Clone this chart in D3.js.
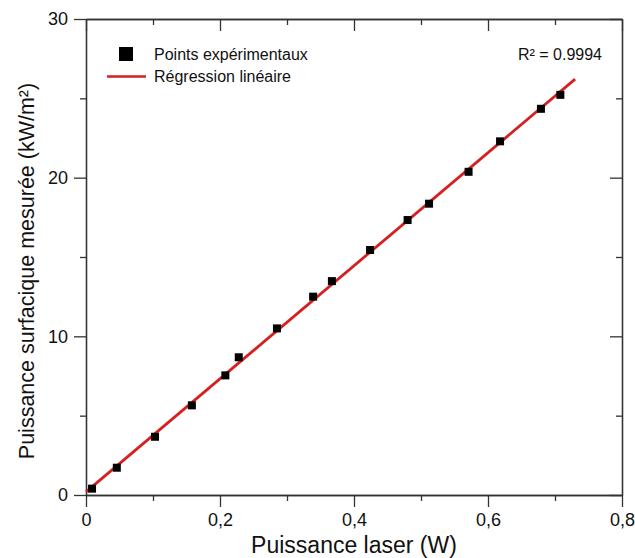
<!DOCTYPE html>
<html>
<head>
<meta charset="utf-8">
<script src="https://cdnjs.cloudflare.com/ajax/libs/d3/7.8.5/d3.min.js"></script>
<style>
  body { margin: 0; background: #fff; }
  svg { font-family: "Liberation Sans", Arial, sans-serif; }
  .axis path, .axis line { stroke: #333; stroke-width: 1.3; }
  .axis text { font-size: 18px; fill: #111; }
</style>
</head>
<body>
<div class="chart"></div>
<script>
"use strict";

// measured points
var laserW = [0.009, 0.046, 0.103, 0.158, 0.208, 0.228, 0.285, 0.339, 0.367, 0.424, 0.480, 0.512, 0.571, 0.618, 0.679, 0.708];
var fluxKW = [0.40, 1.72, 3.67, 5.65, 7.54, 8.68, 10.50, 12.50, 13.48, 15.44, 17.33, 18.36, 20.37, 22.29, 24.34, 25.22];

// axes
var xMajor = [0, 0.2, 0.4, 0.6, 0.8];
var xMinor = [0.1, 0.3, 0.5, 0.7];
var yMajor = [0, 10, 20, 30];
var yMinor = [5, 15, 25];
var fitRange = [0, 0.73];

var legendLabels = ["Points expérimentaux", "Régression linéaire"];
var r2Label = "R² = 0.9994";

var margin = {top: 19, right: 13, bottom: 63, left: 86},
    width = 635 - margin.left - margin.right,
    height = 558 - margin.top - margin.bottom;

var svg = d3.select(".chart").append("svg")
    .attr("width", 635)
    .attr("height", 558);

var g = svg.append("g")
    .attr("transform", "translate(" + margin.left + "," + margin.top + ")");

var x = d3.scaleLinear().domain([0, 0.8]).range([0, width]);
var y = d3.scaleLinear().domain([0, 30]).range([height, 0]);

var fmtX = function(d){ return d === 0 ? "0" : d3.format(".1f")(d).replace(".", ","); };

// bottom + left (outward), top + right (inward)
g.append("g").attr("class", "axis")
  .attr("transform", "translate(0," + height + ")")
  .call(d3.axisBottom(x).tickValues(xMajor).tickFormat(fmtX).tickSize(12).tickSizeOuter(0).tickPadding(6));
g.append("g").attr("class", "axis")
  .attr("transform", "translate(0," + height + ")")
  .call(d3.axisBottom(x).tickValues(xMinor).tickFormat("").tickSize(6).tickSizeOuter(0));
g.append("g").attr("class", "axis")
  .call(d3.axisLeft(y).tickValues(yMajor).tickSize(12).tickSizeOuter(0).tickPadding(6));
g.append("g").attr("class", "axis")
  .call(d3.axisLeft(y).tickValues(yMinor).tickFormat("").tickSize(6).tickSizeOuter(0));
g.append("g").attr("class", "axis")
  .call(d3.axisTop(x).tickValues(xMajor).tickFormat("").tickSize(-12).tickSizeOuter(0));
g.append("g").attr("class", "axis")
  .call(d3.axisTop(x).tickValues(xMinor).tickFormat("").tickSize(-6).tickSizeOuter(0));
g.append("g").attr("class", "axis")
  .attr("transform", "translate(" + width + ",0)")
  .call(d3.axisRight(y).tickValues(yMajor).tickFormat("").tickSize(-12).tickSizeOuter(0));
g.append("g").attr("class", "axis")
  .attr("transform", "translate(" + width + ",0)")
  .call(d3.axisRight(y).tickValues(yMinor).tickFormat("").tickSize(-6).tickSizeOuter(0));

// least squares fit
var mx = d3.mean(laserW), my = d3.mean(fluxKW);
var sxy = d3.sum(laserW, function(d, i){ return (d - mx) * (fluxKW[i] - my); });
var sxx = d3.sum(laserW, function(d){ return (d - mx) * (d - mx); });
var slope = sxy / sxx, icpt = my - slope * mx;

g.append("line")
  .attr("x1", x(fitRange[0])).attr("y1", y(icpt + slope * fitRange[0]))
  .attr("x2", x(fitRange[1])).attr("y2", y(icpt + slope * fitRange[1]))
  .style("stroke", "#d42020")
  .style("stroke-width", 2.8);

var sq = 8;
g.selectAll(".pt")
  .data(laserW).enter().append("rect")
  .attr("class", "pt")
  .attr("x", function(d){ return x(d) - sq/2; })
  .attr("y", function(d, i){ return y(fluxKW[i]) - sq/2; })
  .attr("width", sq).attr("height", sq)
  .style("fill", "#000");

// legend
var leg = svg.append("g").style("font-size", "16px");
leg.append("rect").attr("x", 119).attr("y", 47).attr("width", 14).attr("height", 14).style("fill", "#000");
leg.append("line").attr("x1", 107).attr("x2", 146).attr("y1", 76.5).attr("y2", 76.5)
  .style("stroke", "#d42020").style("stroke-width", 2.5);
leg.selectAll("text.lg").data(legendLabels).enter().append("text")
  .attr("class", "lg")
  .attr("x", 154)
  .attr("y", function(d, i){ return 60 + i * 22; })
  .style("fill", "#111")
  .text(function(d){ return d; });

svg.append("text")
  .attr("x", 602).attr("y", 60)
  .style("text-anchor", "end").style("font-size", "16px").style("fill", "#111")
  .text(r2Label);

// axis titles
svg.append("text")
  .attr("x", margin.left + width/2).attr("y", 553)
  .style("text-anchor", "middle").style("font-size", "23px").style("fill", "#111")
  .text("Puissance laser (W)");

svg.append("text")
  .attr("transform", "translate(34," + 271 + ") rotate(-90)")
  .style("text-anchor", "middle").style("font-size", "21.5px").style("fill", "#111")
  .text("Puissance surfacique mesurée (kW/m²)");
</script>
</body>
</html>
